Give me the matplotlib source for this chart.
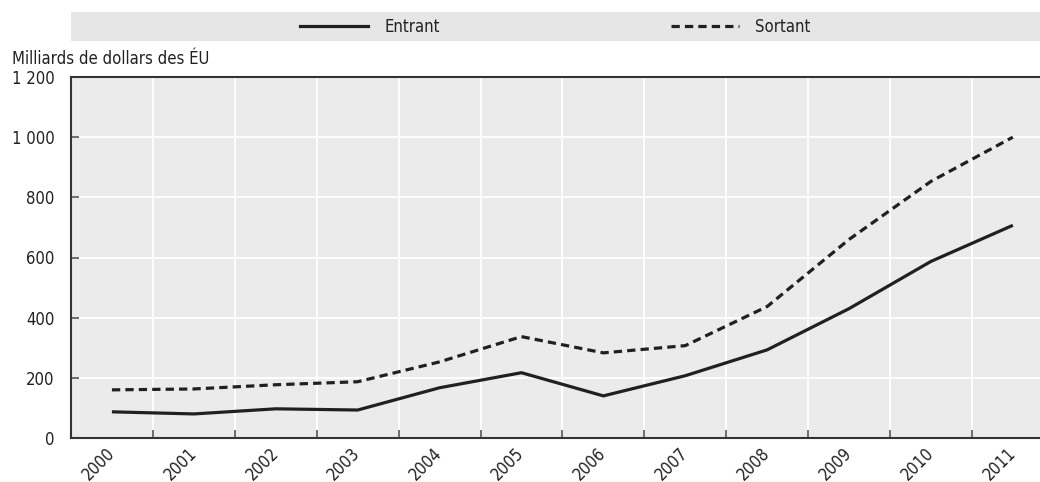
import matplotlib
matplotlib.use("Agg")
import matplotlib.pyplot as plt
from matplotlib.lines import Line2D

plt.rcParams['font.family'] = ['DejaVu Sans']
plt.rcParams['font.stretch'] = 'condensed'

years = ["2000", "2001", "2002", "2003", "2004", "2005",
         "2006", "2007", "2008", "2009", "2010", "2011"]
entrant = [87, 80, 97, 93, 167, 217, 140, 207, 293, 430, 587, 707]
sortant = [160, 163, 177, 187, 253, 337, 283, 307, 437, 660, 853, 1000]
y_ticks = [0, 200, 400, 600, 800, 1000, 1200]
y_labels = ["0", "200", "400", "600", "800", "1 000", "1 200"]

W, H = 1040, 482
ink = "#231f20"
text_col = "#222222"
dash = (2.6, 1.6)
fs = 12

fig = plt.figure(figsize=(W / 100, H / 100), dpi=100)
ax = fig.add_axes([71 / W, 1 - 438 / H, 1 - 71 / W, (438 - 77) / H])
ax.set_facecolor("#ebebeb")

x = list(range(len(years)))
ax.plot(x, entrant, color=ink, lw=2.3, solid_capstyle='butt')
ax.plot(x, sortant, color=ink, lw=2.3, dashes=dash)

# grid between categories, labels at category centres
ax.set_xticks([i + 0.5 for i in range(len(years) - 1)])
ax.set_xticklabels([])
ax.set_xticks(x, minor=True)
ax.set_xticklabels(years, minor=True, rotation=45, ha='right', va='center',
                   rotation_mode='anchor', fontsize=fs, color=text_col)
ax.tick_params(axis='x', which='minor', length=0, pad=9)
ax.tick_params(axis='x', which='major', direction='in', length=6,
               width=1.2, color="#555555")
ax.set_yticks(y_ticks)
ax.set_yticklabels(y_labels, fontsize=fs, color=text_col)
ax.tick_params(axis='y', direction='in', length=6, width=1.2,
               color="#555555", pad=12)
ax.grid(True, which='major', color="white", lw=1.3)
ax.set_axisbelow(True)

ax.set_xlim(-0.5, (W - 71) / 81.9 - 0.5)
ax.set_ylim(0, 1200)

for side in ['left', 'bottom', 'top']:
    ax.spines[side].set_color("#333333")
    ax.spines[side].set_linewidth(1.5)
ax.spines['right'].set_visible(False)

fig.text(12 / W, 1 - 64 / H, "Milliards de dollars des ÉU", fontsize=fs,
         color=text_col, va='baseline', ha='left')

# legend band
lax = fig.add_axes([71 / W, 1 - 41 / H, 1 - 71 / W, 29 / H])
lax.set_facecolor("#e6e6e6")
lax.set_xticks([])
lax.set_yticks([])
for s in lax.spines.values():
    s.set_visible(False)
handles = [Line2D([], [], color=ink, lw=2.3),
           Line2D([], [], color=ink, lw=2.3, dashes=dash)]
lax.legend(handles, ["Entrant", "Sortant"], ncol=2, loc='center',
           frameon=False, fontsize=fs, handlelength=4.07, handletextpad=0.96,
           columnspacing=13.9, labelcolor=text_col)

fig.savefig("out.png", dpi=100)
